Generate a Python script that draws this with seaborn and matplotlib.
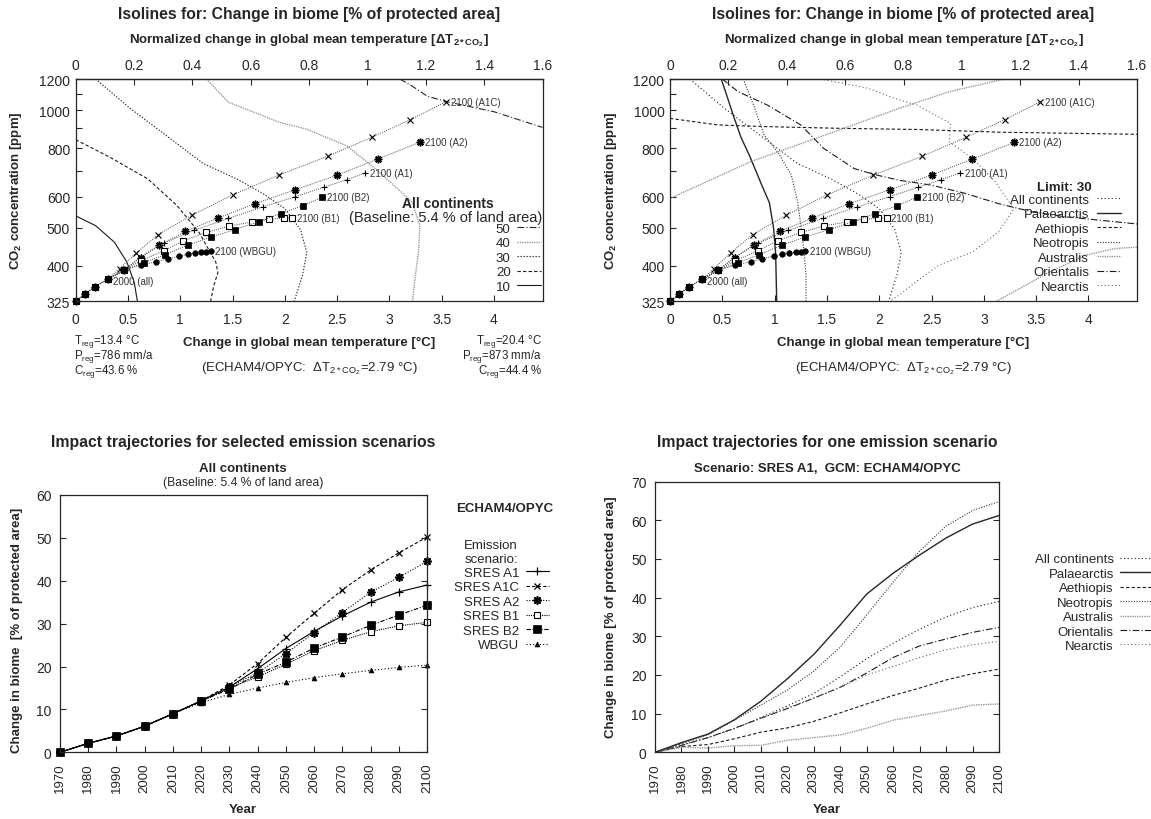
import pandas as pd
import matplotlib
matplotlib.use("Agg")
import matplotlib.pyplot as plt
import seaborn as sns
from matplotlib.ticker import FixedLocator, NullFormatter, NullLocator, FuncFormatter

# ---------------------------------------------------------------
# values
# ---------------------------------------------------------------
ECS = 2.79  # ECHAM4/OPYC dT(2xCO2), links lower and upper x axis

# trajectories in temperature / CO2 space, 1970-2000 shared by all scenarios
hist_temp = [0.0, 0.09, 0.18, 0.31]
hist_co2 = [325, 339, 354, 370]
# 2010 ... 2100
a1c_temp = [0.42, 0.58, 0.79, 1.11, 1.50, 1.94, 2.41, 2.83, 3.20, 3.54]
a1c_co2 = [394, 432, 481, 539, 607, 682, 762, 852, 945, 1050]
a2_temp = [0.46, 0.62, 0.80, 1.05, 1.36, 1.71, 2.10, 2.50, 2.89, 3.29]
a2_co2 = [390, 420, 452, 490, 530, 576, 626, 682, 750, 827]
a1_temp = [0.46, 0.62, 0.84, 1.13, 1.46, 1.79, 2.10, 2.37, 2.59, 2.77]
a1_co2 = [390, 422, 457, 493, 529, 566, 601, 635, 664, 691]
b1_temp = [0.46, 0.62, 0.84, 1.03, 1.25, 1.47, 1.69, 1.85, 1.99, 2.07]
b1_co2 = [390, 412, 437, 464, 487, 506, 518, 526, 530, 530]
wbgu_temp = [0.46, 0.62, 0.77, 0.88, 0.99, 1.07, 1.14, 1.20, 1.25, 1.29]
wbgu_co2 = [390, 402, 410, 417, 424, 428, 432, 434, 435, 436]
b2_temp = [0.46, 0.65, 0.85, 1.07, 1.29, 1.52, 1.75, 1.96, 2.17, 2.36]
b2_co2 = [390, 408, 427, 452, 474, 495, 519, 544, 570, 599]

# isolines, all continents (top left)
iso50_temp = [3.10, 3.22, 3.36, 3.55, 4.00, 4.464]
iso50_co2 = [1200, 1150, 1085, 1050, 990, 903]
iso40_temp = [1.25, 1.46, 1.95, 2.20, 2.59, 2.87, 3.08, 3.22, 3.29, 3.28, 3.25, 3.22]
iso40_co2 = [1200, 1047, 930, 895, 811, 707, 629, 581, 507, 440, 380, 325]
iso30_temp = [0.19, 0.52, 0.88, 1.22, 1.55, 1.80, 2.00, 2.15, 2.21, 2.17, 2.09]
iso30_co2 = [1200, 1010, 855, 730, 665, 610, 560, 495, 433, 380, 325]
iso20_temp = [0.0, 0.33, 0.69, 0.97, 1.18, 1.34, 1.36, 1.32, 1.29]
iso20_co2 = [840, 757, 667, 570, 487, 409, 385, 356, 325]
iso10_temp = [0.0, 0.19, 0.37, 0.49, 0.56, 0.59]
iso10_co2 = [537, 507, 460, 409, 363, 325]

# limit 30 isolines per region (top right); all continents = iso30
pal_temp = [0.49, 0.54, 0.61, 0.68, 0.76, 0.87, 0.95, 0.99, 1.01, 1.02]
pal_co2 = [1200, 1095, 960, 850, 765, 650, 580, 500, 430, 325]
aeth_temp = [0.0, 0.46, 0.93, 1.63, 2.36, 3.14, 4.464]
aeth_co2 = [952, 916, 907, 898, 892, 878, 867]
neo_temp = [0.70, 0.81, 0.90, 1.03, 1.16, 1.22, 1.27, 1.30, 1.30]
neo_co2 = [1200, 1010, 863, 781, 682, 583, 464, 381, 325]
aus_temp = [0.0, 0.77, 1.57, 2.19, 2.67, 3.20]
aus_co2 = [595, 738, 880, 1010, 1114, 1200]
aus2_temp = [3.12, 3.62, 3.97, 4.25, 4.464]
aus2_co2 = [325, 385, 426, 443, 447]
ori_temp = [0.50, 0.65, 0.93, 1.25, 1.47, 1.76, 1.95, 2.19, 2.50, 2.82, 3.14, 3.46, 3.78, 4.464]
ori_co2 = [1200, 1114, 1030, 916, 798, 709, 685, 662, 643, 613, 577, 550, 534, 512]
nea_temp = [1.44, 1.89, 2.19, 2.36, 2.68, 2.67, 2.89, 3.11, 3.24, 3.29, 3.14, 2.89, 2.57, 2.35, 2.19, 2.10]
nea_co2 = [1200, 1137, 1061, 1030, 925, 830, 753, 656, 583, 561, 489, 434, 402, 364, 337, 325]

# impact trajectories [% of protected area], 1970 ... 2100
years = list(range(1970, 2101, 10))
imp_a1 = [0, 2.1, 3.8, 6.1, 9.0, 12.0, 15.2, 19.5, 24.2, 28.2, 31.8, 35.0, 37.4, 39.0]
imp_a1c = [0, 2.1, 3.8, 6.1, 9.0, 12.0, 15.7, 20.7, 26.8, 32.4, 37.9, 42.5, 46.5, 50.2]
imp_a2 = [0, 2.1, 3.8, 6.1, 9.0, 11.9, 15.3, 18.5, 23.0, 27.9, 32.6, 37.3, 40.8, 44.5]
imp_b1 = [0, 2.1, 3.8, 6.1, 9.0, 11.9, 15.0, 17.6, 20.5, 23.7, 26.1, 28.1, 29.5, 30.3]
imp_b2 = [0, 2.1, 3.8, 6.1, 9.0, 12.0, 14.7, 18.2, 21.0, 24.3, 26.9, 29.6, 32.0, 34.3]
imp_wbgu = [0, 2.1, 3.8, 6.1, 9.0, 11.6, 13.5, 15.0, 16.3, 17.4, 18.3, 19.1, 19.8, 20.3]

# SRES A1 by region
reg_all = imp_a1
reg_pal = [0, 2.5, 4.7, 8.4, 13.2, 19.0, 25.3, 32.9, 40.9, 46.3, 51.0, 55.4, 59.0, 61.2]
reg_aeth = [0, 1.5, 2.0, 3.5, 5.2, 6.3, 8.0, 10.2, 12.5, 14.7, 16.6, 18.7, 20.3, 21.5]
reg_neo = [0, 2.3, 4.5, 8.3, 12.2, 16.1, 21.0, 27.2, 35.5, 44.0, 52.0, 58.5, 62.5, 64.8]
reg_aus = [0, 1.3, 1.1, 1.7, 1.8, 3.1, 3.8, 4.5, 6.2, 8.3, 9.5, 10.7, 12.2, 12.5]
reg_ori = [0, 1.8, 3.8, 6.2, 8.8, 11.3, 14.0, 16.8, 20.5, 24.5, 27.5, 29.3, 31.0, 32.3]
reg_nea = [0, 1.8, 3.8, 6.2, 8.8, 11.5, 14.0, 16.8, 20.0, 22.2, 24.5, 26.5, 27.8, 28.7]

co2_ticks = [325, 400, 500, 600, 800, 1000, 1200]
co2_minor = [700, 900, 1100]
temp_ticks = [0, 0.5, 1, 1.5, 2, 2.5, 3, 3.5, 4]
norm_ticks = [0, 0.2, 0.4, 0.6, 0.8, 1.0, 1.2, 1.4, 1.6]

# ---------------------------------------------------------------
sns.set_style("ticks")
plt.rcParams["font.family"] = ["Liberation Sans", "DejaVu Sans"]
plt.rcParams["mathtext.fontset"] = "custom"
plt.rcParams["mathtext.rm"] = "Liberation Sans"
plt.rcParams["mathtext.bf"] = "Liberation Sans:bold"
plt.rcParams["mathtext.it"] = "Liberation Sans:italic"

W, H = 1151, 820
fig = plt.figure(figsize=(W / 100, H / 100), dpi=100)


def box(l, t, r, b):
    return [l / W, 1 - b / H, (r - l) / W, (b - t) / H]


def ftext(x, y, s, **kw):
    kw.setdefault("ha", "center")
    kw.setdefault("va", "center")
    fig.text(x / W, 1 - y / H, s, **kw)


def fmt_g(v, pos):
    return f"{v:g}"


def draw(ax, x, y, **style):
    df = pd.DataFrame({"x": x, "y": y})
    sns.lineplot(data=df, x="x", y="y", ax=ax, sort=False, estimator=None,
                 legend=False, **style)
    return ax.lines[-1]


def key(ax, handles, labels, right, top, size, hlen, pad):
    ax.legend(handles, labels, loc="upper right", frameon=False, markerfirst=False,
              fontsize=size, handlelength=hlen, handletextpad=pad,
              labelspacing=0.17, borderpad=0, borderaxespad=0,
              bbox_to_anchor=(right / W, 1 - top / H), bbox_transform=fig.transFigure)


def co2_axes(ax):
    ax.set_yscale("log")
    ax.set_xlim(0, 1.6 * ECS)
    ax.set_ylim(325, 1200)
    ax.set_xlabel("")
    ax.set_ylabel("")
    ax.yaxis.set_major_locator(FixedLocator(co2_ticks))
    ax.yaxis.set_major_formatter(FuncFormatter(fmt_g))
    ax.yaxis.set_minor_locator(FixedLocator(co2_minor))
    ax.yaxis.set_minor_formatter(NullFormatter())
    ax.xaxis.set_major_locator(FixedLocator(temp_ticks))
    ax.xaxis.set_major_formatter(FuncFormatter(fmt_g))
    ax.xaxis.set_minor_locator(NullLocator())
    ax.tick_params(which="both", direction="in", labelsize=10, length=4, width=0.8)
    ax.tick_params(axis="x", pad=8)
    ax.tick_params(axis="y", pad=4)
    sec = ax.secondary_xaxis("top", functions=(lambda t: t / ECS, lambda n: n * ECS))
    sec.xaxis.set_major_locator(FixedLocator(norm_ticks))
    sec.xaxis.set_major_formatter(FuncFormatter(fmt_g))
    sec.xaxis.set_minor_locator(NullLocator())
    sec.tick_params(direction="in", labelsize=10, length=4, width=0.8, pad=5)
    for s in list(ax.spines.values()) + list(sec.spines.values()):
        s.set_linewidth(0.9)
        s.set_color("0.15")


def impact_axes(ax, ytop):
    ax.set_xlim(1970, 2100)
    ax.set_ylim(0, ytop)
    ax.set_xlabel("")
    ax.set_ylabel("")
    ax.set_xticks(years)
    ax.set_xticklabels([str(y) for y in years], rotation=90)
    ax.set_yticks(list(range(0, ytop + 1, 10)))
    ax.tick_params(direction="in", right=True, length=4, width=0.8)
    ax.tick_params(axis="x", labelsize=9.5, pad=7)
    ax.tick_params(axis="y", labelsize=10, pad=6)
    for s in ax.spines.values():
        s.set_linewidth(0.9)
        s.set_color("0.15")


traj_line = dict(color="0.3", linewidth=0.7, linestyle=(0, (1, 1.2)), clip_on=False)
scenarios = [
    ("A1C", a1c_temp, a1c_co2, dict(marker="x", markersize=4.5, markeredgewidth=0.8)),
    ("A2", a2_temp, a2_co2, dict(marker=(8, 2, 0), markersize=5.5, markeredgewidth=1.1)),
    ("A1", a1_temp, a1_co2, dict(marker="+", markersize=5, markeredgewidth=0.8)),
    ("B1", b1_temp, b1_co2, dict(marker="s", markersize=4.5, markerfacecolor="white",
                                 markeredgewidth=0.8)),
    ("WBGU", wbgu_temp, wbgu_co2, dict(marker="o", markersize=4, markerfacecolor="black",
                                       markeredgewidth=0.5)),
    ("B2", b2_temp, b2_co2, dict(marker="s", markersize=4.8, markerfacecolor="black",
                                 markeredgewidth=0.5)),
]


def draw_trajectories(ax):
    for name, temp, co2, m in scenarios:
        style = dict(traj_line)
        style.update(m)
        style["markeredgecolor"] = "black"
        draw(ax, hist_temp + temp, hist_co2 + co2, **style)
        ax.annotate(f"2100 ({name})", (temp[-1], co2[-1]), xytext=(3.5, 0),
                    textcoords="offset points", va="center", fontsize=7, color="0.2")
    ax.annotate("2000 (all)", (hist_temp[-1], hist_co2[-1]), xytext=(3.5, -1),
                textcoords="offset points", va="center", fontsize=7, color="0.2")


# ----------------------------- top left ----------------------------
ax_tl = fig.add_axes(box(75.7, 80, 542.5, 302.3))
iso_series = [
    ("50", iso50_temp, iso50_co2, dict(color="0.15", linestyle=(0, (6, 2, 1, 2)))),
    ("40", iso40_temp, iso40_co2, dict(color="0.6", linestyle=(0, (1, 0.7)), linewidth=1.0)),
    ("30", iso30_temp, iso30_co2, dict(color="0.15", linestyle=(0, (1.2, 1.5)))),
    ("20", iso20_temp, iso20_co2, dict(color="0.1", linestyle=(0, (3, 2)))),
    ("10", iso10_temp, iso10_co2, dict(color="0.1", linestyle="-")),
]
handles = []
for lab, t, c, st in iso_series:
    st = dict(st)
    st.setdefault("linewidth", 0.8)
    handles.append(draw(ax_tl, t, c, **st))
draw_trajectories(ax_tl)
co2_axes(ax_tl)
key(ax_tl, handles, [s[0] for s in iso_series], 541, 223.5, 9.5, 1.8, 0.5)
ftext(448, 204, "All continents", fontsize=10, fontweight="bold")
ftext(446, 218, "(Baseline: 5.4 % of land area)", fontsize=10.5)

# ----------------------------- top right ---------------------------
ax_tr = fig.add_axes(box(670, 80, 1137, 302.3))
reg_isolines = [
    ("All continents", iso30_temp, iso30_co2, dict(color="0.1", linestyle=(0, (1, 2.2)))),
    ("Palaearctis", pal_temp, pal_co2, dict(color="0.15", linestyle="-", linewidth=1.0)),
    ("Aethiopis", aeth_temp, aeth_co2, dict(color="0.1", linestyle=(0, (3, 2)))),
    ("Neotropis", neo_temp, neo_co2, dict(color="0.2", linestyle=(0, (1, 1.4)))),
    ("Australis", aus_temp, aus_co2, dict(color="0.6", linestyle=(0, (1, 0.7)), linewidth=1.0)),
    ("Orientalis", ori_temp, ori_co2, dict(color="0.1", linestyle=(0, (6, 2, 1, 2)))),
    ("Nearctis", nea_temp, nea_co2, dict(color="0.4", linestyle=(0, (1, 2.2)))),
]
handles = []
for lab, t, c, st in reg_isolines:
    st = dict(st)
    st.setdefault("linewidth", 0.8)
    handles.append(draw(ax_tr, t, c, **st))
    if lab == "Australis":
        draw(ax_tr, aus2_temp, aus2_co2, **st)
draw_trajectories(ax_tr)
co2_axes(ax_tr)
key(ax_tr, handles, [s[0] for s in reg_isolines], 1121, 194.5, 9.5, 1.8, 0.6)
ftext(1064, 188, "Limit: 30", fontsize=9.5, fontweight="bold")

# labels of the two upper panels
iso_title = "Isolines for: Change in biome [% of protected area]"
top_lab = r"Normalized change in global mean temperature [ΔT$_{\mathbf{2*CO_2}}$]"
bot_lab = "Change in global mean temperature [°C]"
echam = r"(ECHAM4/OPYC:  ΔT$_{2*\mathrm{CO}_2}$=2.79 °C)"
for cx in (309, 903.5):
    ftext(cx, 15, iso_title, fontsize=11.3, fontweight="bold")
    ftext(cx, 41, top_lab, fontsize=9.5, fontweight="bold")
    ftext(cx, 343, bot_lab, fontsize=9.5, fontweight="bold")
    ftext(cx, 369, echam, fontsize=9.5)
for lx in (16.5, 611):
    ftext(lx, 191, r"CO$_\mathbf{2}$ concentration [ppm]", fontsize=9.5,
          fontweight="bold", rotation=90)

ftext(74, 342, r"T$_\mathrm{reg}$=13.4 °C", fontsize=8.3, ha="left")
ftext(74, 357, r"P$_\mathrm{reg}$=786 mm/a", fontsize=8.3, ha="left")
ftext(74, 372, r"C$_\mathrm{reg}$=43.6 %", fontsize=8.3, ha="left")
ftext(542, 342, r"T$_\mathrm{reg}$=20.4 °C", fontsize=8.3, ha="right")
ftext(542, 357, r"P$_\mathrm{reg}$=873 mm/a", fontsize=8.3, ha="right")
ftext(542, 372, r"C$_\mathrm{reg}$=44.4 %", fontsize=8.3, ha="right")

# ----------------------------- bottom left -------------------------
ax_bl = fig.add_axes(box(60, 496, 427, 753.3))
imp_series = [
    ("SRES A1", imp_a1, dict(linestyle="-", marker="+", markersize=5.5, markeredgewidth=0.9)),
    ("SRES A1C", imp_a1c, dict(linestyle=(0, (3, 2)), marker="x", markersize=5,
                               markeredgewidth=0.9)),
    ("SRES A2", imp_a2, dict(linestyle=(0, (1, 1.5)), marker=(8, 2, 0), markersize=6,
                             markeredgewidth=1.2)),
    ("SRES B1", imp_b1, dict(linestyle=(0, (1, 1)), marker="s", markersize=5,
                             markerfacecolor="white", markeredgewidth=0.8)),
    ("SRES B2", imp_b2, dict(linestyle=(0, (4, 1.5, 1, 1.5)), marker="s", markersize=5.5,
                             markerfacecolor="black", markeredgewidth=0.5)),
    ("WBGU", imp_wbgu, dict(linestyle=(0, (1, 2)), marker="^", markersize=3.5,
                            markerfacecolor="black", markeredgewidth=0.5)),
]
handles = []
for lab, vals, st in imp_series:
    st = dict(st)
    st.update(color="black", markeredgecolor="black", linewidth=0.8, clip_on=False)
    handles.append(draw(ax_bl, years, vals, **st))
impact_axes(ax_bl, 60)
key(ax_bl, handles, [s[0] for s in imp_series], 549, 567.5, 9.5, 1.75, 0.5)
ftext(243, 443, "Impact trajectories for selected emission scenarios",
      fontsize=11.3, fontweight="bold")
ftext(243, 469, "All continents", fontsize=9.5, fontweight="bold")
ftext(243, 483, "(Baseline: 5.4 % of land area)", fontsize=8.7)
ftext(505, 509, "ECHAM4/OPYC", fontsize=9.5, fontweight="bold")
ftext(491, 546, "Emission", fontsize=9.5)
ftext(491, 560, "scenario:", fontsize=9.5)
ftext(17, 630, "Change in biome  [% of protected area]", fontsize=9.5,
      fontweight="bold", rotation=90)
ftext(243, 810, "Year", fontsize=9.5, fontweight="bold")

# ----------------------------- bottom right ------------------------
ax_br = fig.add_axes(box(655, 482.5, 999, 753.3))
reg_series = [
    ("All continents", reg_all, dict(color="0.1", linestyle=(0, (1, 2.2)))),
    ("Palaearctis", reg_pal, dict(color="0.15", linestyle="-", linewidth=1.0)),
    ("Aethiopis", reg_aeth, dict(color="0.1", linestyle=(0, (3, 2)))),
    ("Neotropis", reg_neo, dict(color="0.2", linestyle=(0, (1, 1.4)))),
    ("Australis", reg_aus, dict(color="0.6", linestyle=(0, (1, 0.7)), linewidth=1.0)),
    ("Orientalis", reg_ori, dict(color="0.1", linestyle=(0, (6, 2, 1, 2)))),
    ("Nearctis", reg_nea, dict(color="0.4", linestyle=(0, (1, 2.2)))),
]
handles = []
for lab, vals, st in reg_series:
    st = dict(st)
    st.setdefault("linewidth", 0.8)
    handles.append(draw(ax_br, years, vals, **st))
impact_axes(ax_br, 70)
key(ax_br, handles, [s[0] for s in reg_series], 1154, 554, 9.5, 2.6, 0.45)
ftext(827, 443, "Impact trajectories for one emission scenario",
      fontsize=11.3, fontweight="bold")
ftext(827, 469, "Scenario: SRES A1,  GCM: ECHAM4/OPYC", fontsize=9.5, fontweight="bold")
ftext(611, 617, "Change in biome [% of protected area]", fontsize=9.5,
      fontweight="bold", rotation=90)
ftext(827, 810, "Year", fontsize=9.5, fontweight="bold")

fig.savefig("out.png", dpi=100)
